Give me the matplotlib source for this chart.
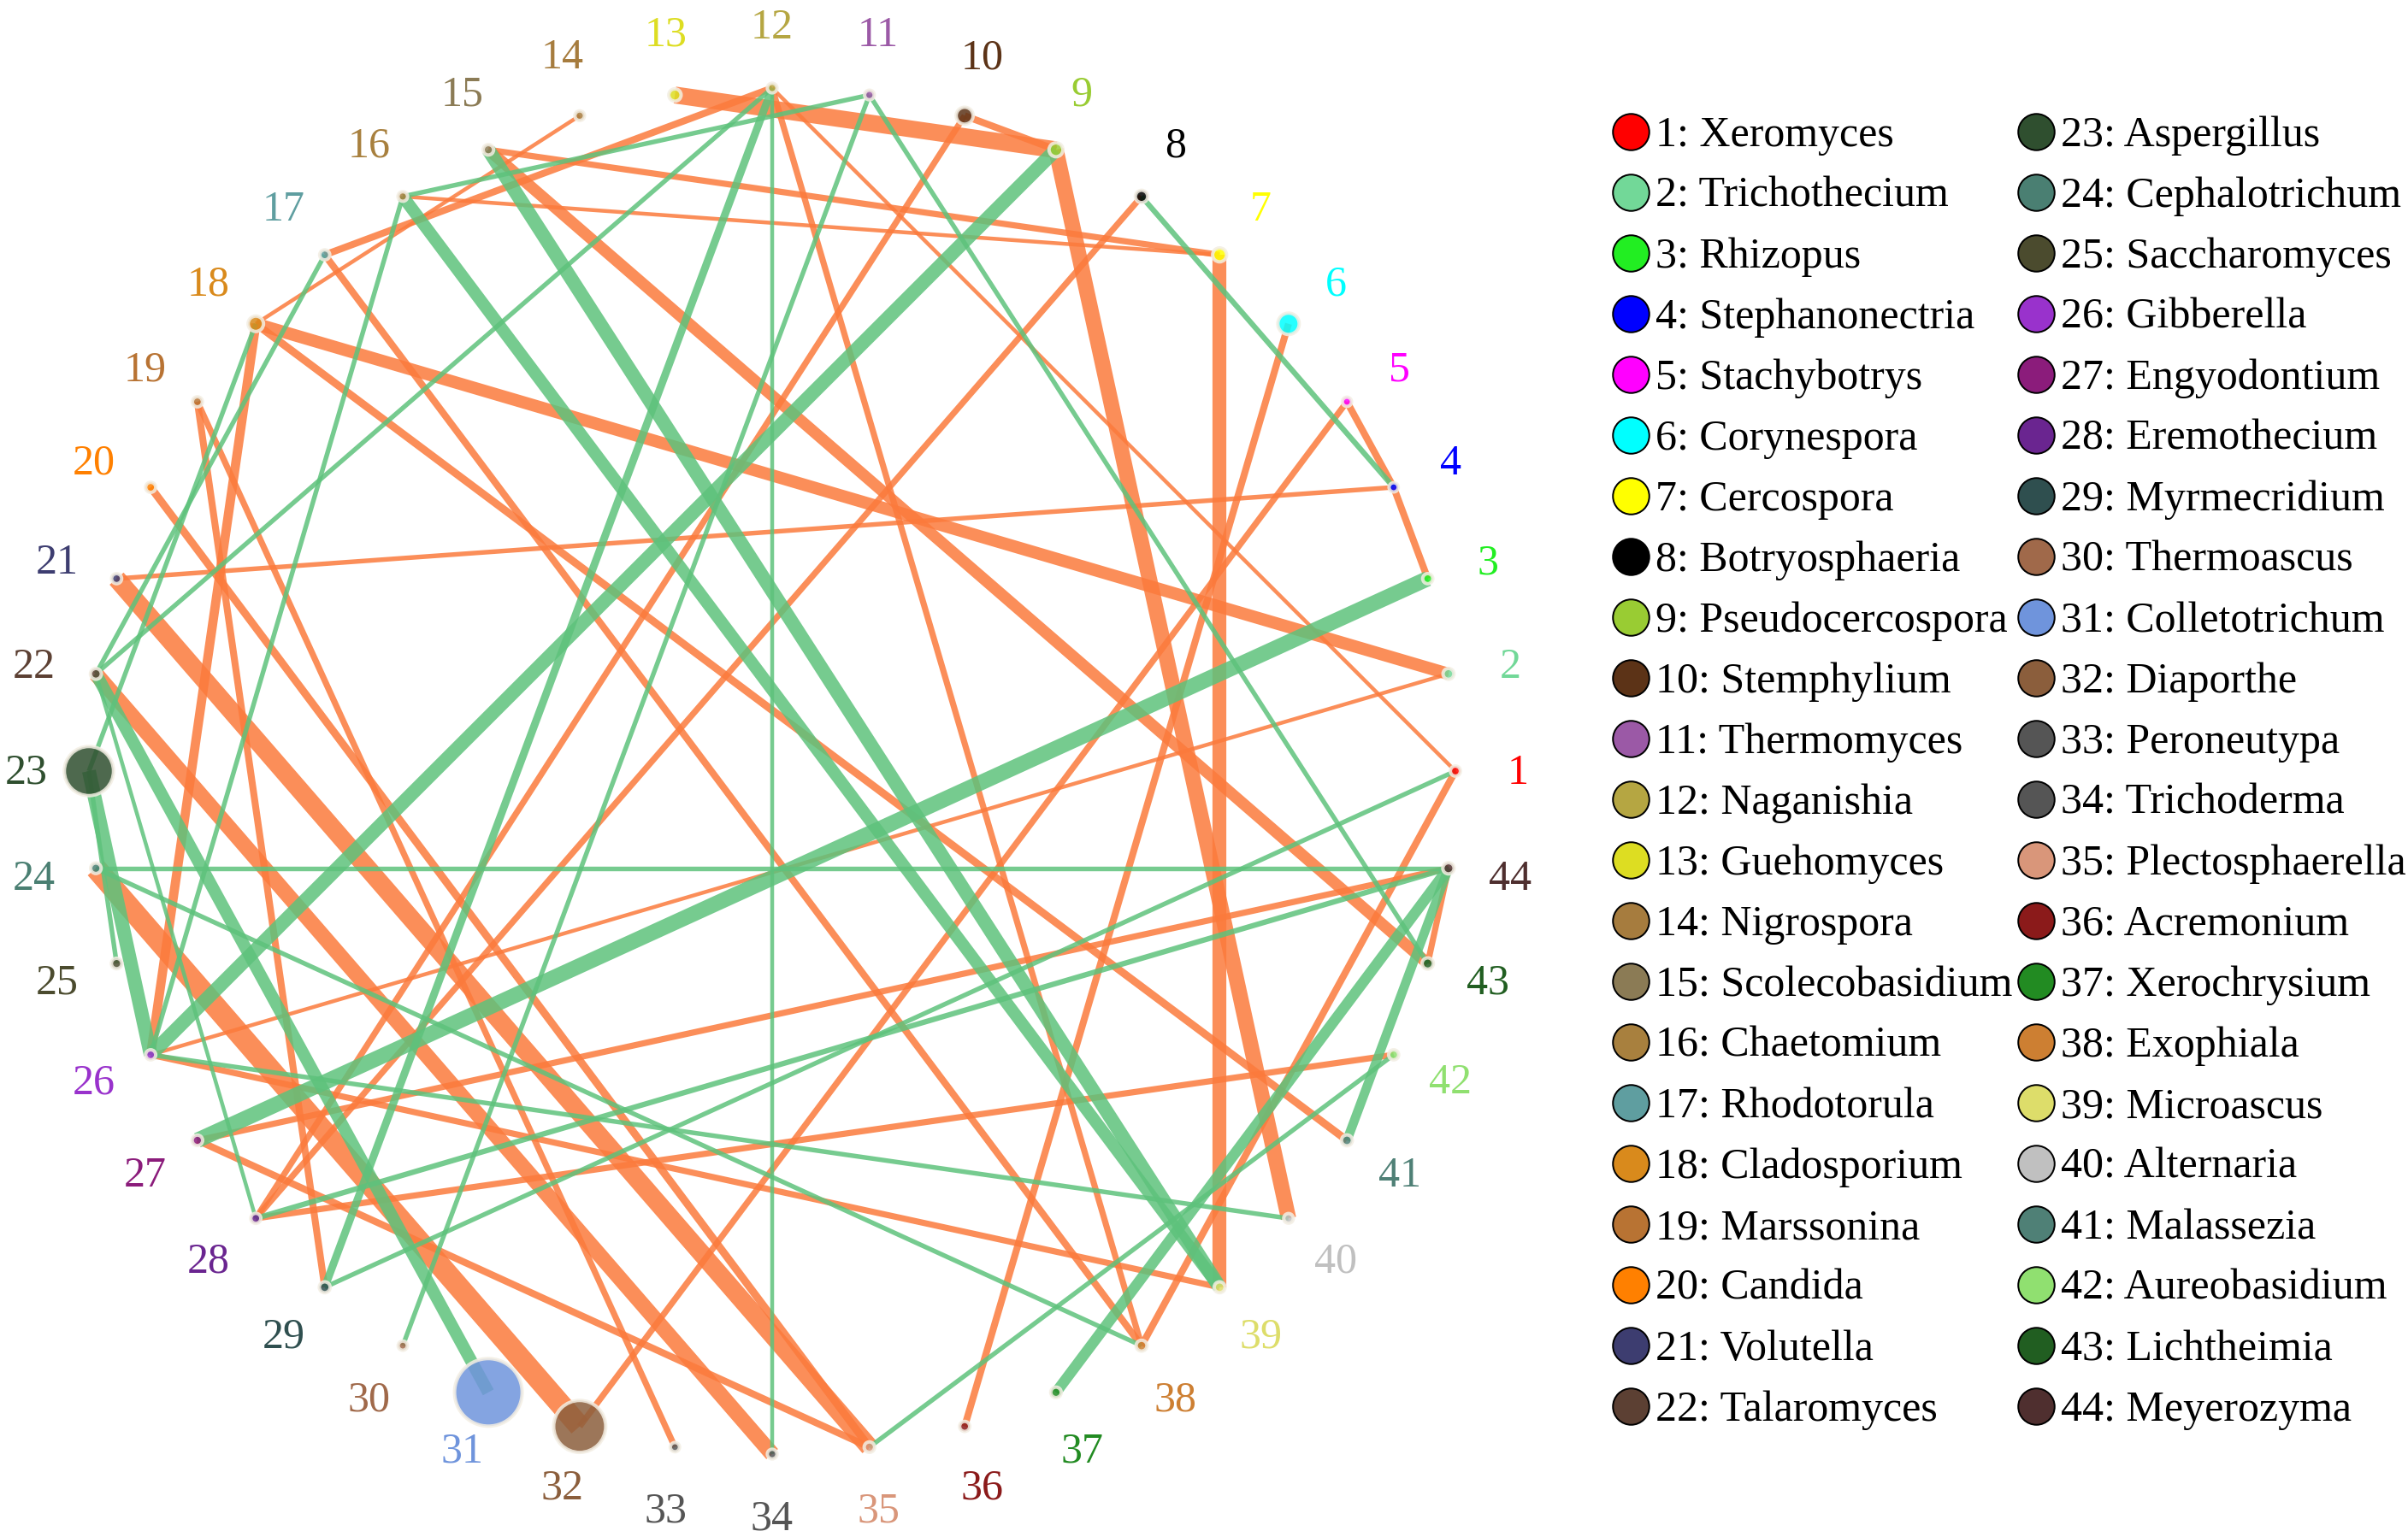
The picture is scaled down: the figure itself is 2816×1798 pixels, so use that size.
import numpy as np
import matplotlib.pyplot as plt

# genera in the network, in circle order (1 at 3 o'clock, counter-clockwise)
names = ["Xeromyces", "Trichothecium", "Rhizopus", "Stephanonectria", "Stachybotrys",
         "Corynespora", "Cercospora", "Botryosphaeria", "Pseudocercospora", "Stemphylium",
         "Thermomyces", "Naganishia", "Guehomyces", "Nigrospora", "Scolecobasidium",
         "Chaetomium", "Rhodotorula", "Cladosporium", "Marssonina", "Candida",
         "Volutella", "Talaromyces", "Aspergillus", "Cephalotrichum", "Saccharomyces",
         "Gibberella", "Engyodontium", "Eremothecium", "Myrmecridium", "Thermoascus",
         "Colletotrichum", "Diaporthe", "Peroneutypa", "Trichoderma", "Plectosphaerella",
         "Acremonium", "Xerochrysium", "Exophiala", "Microascus", "Alternaria",
         "Malassezia", "Aureobasidium", "Lichtheimia", "Meyerozyma"]

colors = ["#ff0000", "#72d898", "#22ee22", "#0000ff", "#ff00ff",
          "#00ffff", "#ffff00", "#000000", "#99cc33", "#5c3317",
          "#9b59a6", "#b5a642", "#dddd22", "#a67c3e", "#8b7b55",
          "#a8803e", "#5f9ea0", "#d98a1c", "#b87333", "#ff8000",
          "#3d3d70", "#5c4033", "#2f4f2f", "#4a7f72", "#4b4b2e",
          "#9932cc", "#8b1c7b", "#6a2590", "#2f4f4f", "#a0694a",
          "#6f94dc", "#8b5e3c", "#555555", "#555555", "#d9967a",
          "#8b1a1a", "#228b22", "#cd7f32", "#dddd6a", "#c0c0c0",
          "#4f8076", "#90e070", "#215e21", "#4f2f2f"]

abund = [1.2, 1.4, 1.2, 1.0, 1.0, 5.4, 2.3, 1.8, 2.3, 3.4,
         1.1, 1.1, 1.8, 1.1, 1.3, 1.1, 1.2, 2.8, 1.2, 1.2,
         1.2, 1.4, 28.6, 1.3, 1.3, 1.2, 1.3, 1.2, 1.4, 1.0,
         54.0, 32.0, 1.0, 1.1, 1.3, 1.2, 1.3, 1.4, 1.4, 1.1,
         1.4, 1.2, 1.5, 1.5]

# positive links (green)
pos_a = [12, 24, 15, 16, 9, 3, 23, 22, 12, 12, 11, 11, 11, 8, 16, 17, 18,
         22, 24, 23, 1, 28, 37, 41, 35, 26]
pos_b = [34, 44, 39, 39, 26, 27, 26, 31, 29, 22, 16, 30, 43, 4, 26, 22, 23,
         28, 38, 25, 29, 44, 44, 44, 42, 40]
pos_w = [2.5, 3, 9, 8, 9, 10, 9, 8, 5, 3, 3, 3, 3, 3.5, 3, 3, 3,
         2.5, 3, 3, 3, 3.5, 7, 6, 3, 3]

# negative links (orange)
neg_a = [13, 10, 9, 7, 15, 16, 15, 17, 14, 18, 18, 18, 17, 19, 19, 20, 21, 22,
         24, 21, 5, 4, 5, 6, 8, 10, 12, 12, 2, 27, 27, 28, 26, 44, 1]
neg_b = [9, 9, 40, 39, 7, 7, 43, 12, 18, 2, 26, 41, 38, 29, 33, 35, 35, 34,
         32, 4, 4, 3, 32, 36, 28, 28, 38, 1, 26, 44, 35, 42, 39, 43, 38]
neg_w = [11, 4.5, 10, 9, 4, 2.5, 7.5, 4.5, 2.5, 8, 6, 5, 4.5, 4.5, 4, 5, 12, 10,
         14, 3, 4.5, 4.5, 4, 4.5, 4, 4, 4, 2.5, 2.5, 4, 4.5, 4, 4, 4, 4.5]

W, H, DPI = 2816, 1798, 180
fig = plt.figure(figsize=(W / DPI, H / DPI), dpi=DPI)
ax = fig.add_axes([0, 0, 1, 1])
ax.set_xlim(0, W)
ax.set_ylim(H, 0)
ax.axis('off')

serif = ['Liberation Serif', 'DejaVu Serif']
cx, cy, R = 903, 902, 799
n = len(names)
ang = np.deg2rad(np.arange(n) * 360.0 / n)
xs = cx + R * np.cos(ang)
ys = cy - R * np.sin(ang)

def draw_links(src, dst, wts, col):
    for a, b, w in zip(src, dst, wts):
        ax.plot([xs[a - 1], xs[b - 1]], [ys[a - 1], ys[b - 1]], color=col,
                lw=w * 0.72, alpha=0.85, solid_capstyle='butt', zorder=1)

draw_links(neg_a, neg_b, neg_w, '#fb7a3c')
draw_links(pos_a, pos_b, pos_w, '#5ec27c')

ax.scatter(xs, ys, s=np.array(abund) * 18.5, c=colors, edgecolors='#f3eee3',
           linewidths=1.6, alpha=0.85, zorder=3)

# number labels round the circle
lr = 872
for i in range(n):
    ax.text(cx + lr * np.cos(ang[i]), cy - lr * np.sin(ang[i]) + 15, str(i + 1),
            color=colors[i], fontsize=20, family=serif, ha='center', va='baseline')

# legend, two columns
for i in range(n):
    col, row = divmod(i, 22)
    mx = [1907, 2381][col]
    my = 154 + row * 71
    ax.scatter(mx, my, s=17 ** 2, c=colors[i], edgecolors='black', linewidths=0.8, zorder=3)
    ax.text(mx + 29, my + 17, f"{i + 1}: {names[i]}", fontsize=20, family=serif,
            ha='left', va='baseline')

fig.savefig('out.png', dpi=DPI, facecolor='white')
